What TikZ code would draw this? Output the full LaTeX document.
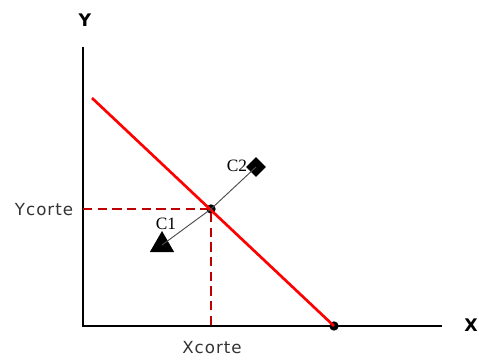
\documentclass[tikz,border=0pt]{standalone}
\usepackage{fontspec}
\setmainfont{DejaVu Sans}
\newfontfamily\lblfont[LetterSpace=6]{DejaVu Sans}
\newfontfamily\cfont{Liberation Serif}
\usetikzlibrary{shapes.geometric}
\begin{document}
\begin{tikzpicture}[x=0.75pt,y=-0.75pt,
  axis/.style={black, line width=0.9pt},
  demand/.style={red, line width=2pt},
  guide/.style={red!75!black, line width=1.6pt, dash pattern=on 7pt off 4pt},
  cline/.style={gray!60!black, line width=0.7pt},
  dot/.style={circle, fill=black, inner sep=0pt, minimum size=7pt},
  lbl/.style={font=\lblfont\fontsize{12.5pt}{14pt}\selectfont, text=black!80},
  axl/.style={font=\bfseries\fontsize{13pt}{15pt}\selectfont},
  cl/.style={font=\cfont\fontsize{13pt}{15pt}\selectfont}]
\useasboundingbox (0,0) rectangle (479,360);
\coordinate (O) at (83,326);
\coordinate (ytop) at (83,47);
\coordinate (xend) at (442,326);
\coordinate (rs) at (92,98);
\node[dot] (xi) at (334,326) {};
\node[dot] (E) at (211,209) {};
\coordinate (ey) at (83,209);
\coordinate (ex) at (211,326);
\draw[axis] (ytop) -- (O) -- (xend);
\draw[guide] (ey) -- (E.center) -- (ex);
\draw[demand] (rs) -- (xi.center);
\node[regular polygon, regular polygon sides=3, fill=black, inner sep=0pt, minimum size=21pt] (c1) at (162,245) {};
\node[diamond, fill=black, inner sep=0pt, minimum size=15pt] (c2) at (256,167) {};
\draw[cline] (c1.center) -- (E.center) -- (c2.center);
\node[axl] (ylab) at (85,20) {Y};
\node[axl] (xlab) at (471,325) {X};
\node[lbl] (yc) at (44,210) {Ycorte};
\node[lbl] (xc) at (212,348) {Xcorte};
\node[cl] (c1l) at (166,224) {C1};
\node[cl] (c2l) at (237,166) {C2};
\end{tikzpicture}
\end{document}
